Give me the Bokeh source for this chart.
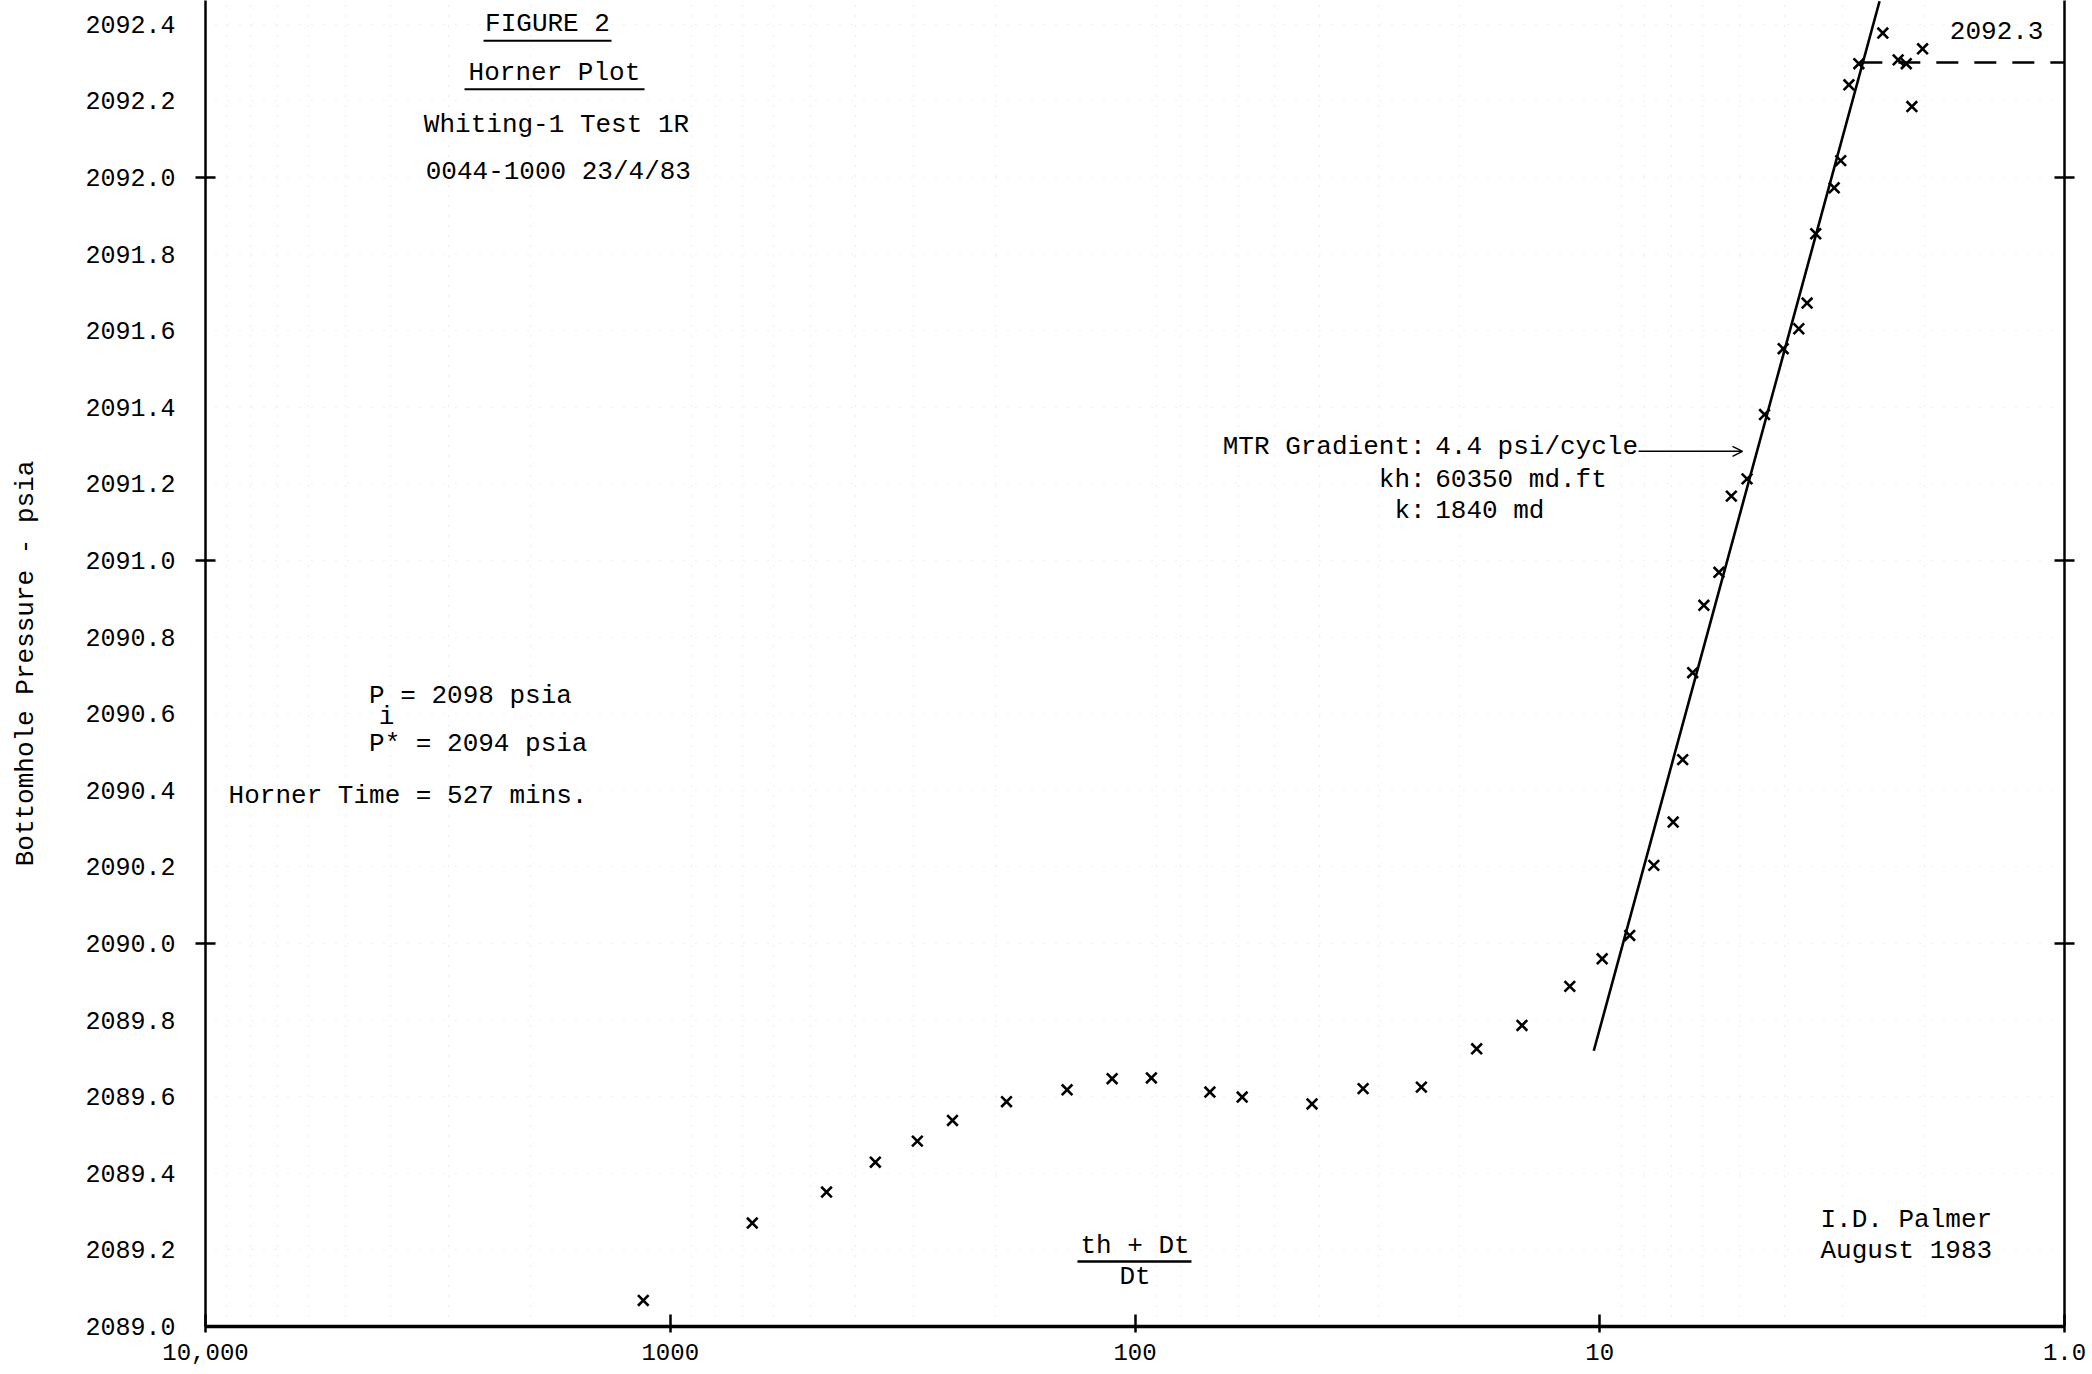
from bokeh.plotting import figure
from bokeh.models import (Range1d, FixedTicker, LinearAxis, PrintfTickFormatter,
                          CustomJSTickFormatter, ColumnDataSource, Label, LabelSet,
                          Arrow, OpenHead)
from bokeh.core.properties import value
from bokeh.embed import file_html
from bokeh.resources import INLINE

# ---------------- data ----------------
horner_time = [1143, 666, 461, 362, 294, 247, 189, 140, 112, 92.2,
               69.0, 58.8, 41.6, 32.3, 24.2, 18.4, 14.7, 11.6, 9.88, 8.62,
               7.65, 6.95, 6.63, 6.31, 5.97, 5.54, 5.21, 4.82, 4.42, 4.03,
               3.73, 3.58, 3.43, 3.13, 3.03, 2.91, 2.77, 2.46, 2.28, 2.19,
               2.02, 2.13]
pressure = [2089.068, 2089.270, 2089.351, 2089.429, 2089.484, 2089.538, 2089.587, 2089.618, 2089.647, 2089.649,
            2089.612, 2089.599, 2089.581, 2089.621, 2089.625, 2089.725, 2089.786, 2089.888, 2089.960, 2090.021,
            2090.204, 2090.317, 2090.480, 2090.707, 2090.883, 2090.969, 2091.168, 2091.213, 2091.381, 2091.553,
            2091.605, 2091.672, 2091.853, 2091.973, 2092.044, 2092.242, 2092.297, 2092.377, 2092.307, 2092.297,
            2092.336, 2092.185]

# MTR straight line (semi-log) and the extrapolated 2092.3 level
mtr_time = [10.3, 2.5]
mtr_pressure = [2089.72, 2092.46]
p1hr_time = [2.75, 1.0]
p1hr_pressure = [2092.3, 2092.3]

# axis ticks
x_ticks = [10000, 1000, 100, 10, 1]
x_tick_labels = ["10,000", "1000", "100", "10", "1.0"]
y_ticks = [2089.0, 2089.2, 2089.4, 2089.6, 2089.8, 2090.0, 2090.2, 2090.4, 2090.6,
           2090.8, 2091.0, 2091.2, 2091.4, 2091.6, 2091.8, 2092.0, 2092.2, 2092.4]
y_major_marks = [2090.0, 2091.0, 2092.0]

# printed semi-log paper grid positions
paper_grid = [d * 10 ** k for k in range(4) for d in range(2, 10)]

FONT = "Liberation Mono"

p = figure(width=2088, height=1372, x_axis_type="log",
           x_range=Range1d(10000, 1.0), y_range=Range1d(2089.0, 2092.462),
           output_backend="svg", toolbar_location=None,
           min_border_left=205, min_border_right=24, min_border_top=0, min_border_bottom=46,
           background_fill_color="white", border_fill_color="white")
p.outline_line_color = None

# ---- grid (faint printed log paper) ----
p.xgrid.ticker = FixedTicker(ticks=paper_grid)
p.xgrid.grid_line_color = "#bdbdbd"
p.xgrid.grid_line_dash = "1 9"
p.xgrid.grid_line_alpha = 0.55
p.ygrid.ticker = FixedTicker(ticks=y_ticks)
p.ygrid.grid_line_color = "#bdbdbd"
p.ygrid.grid_line_dash = "1 11"
p.ygrid.grid_line_alpha = 0.45

# ---- x axis ----
xa = p.xaxis[0]
xa.ticker = FixedTicker(ticks=x_ticks)
xa.major_label_overrides = {t: l for t, l in zip(x_ticks, x_tick_labels)}
xa.axis_line_width = 3.5
xa.axis_line_color = "black"
xa.major_tick_in = 12
xa.major_tick_out = 6
xa.major_tick_line_width = 2.5
xa.minor_tick_line_color = None
xa.major_label_standoff = 11
xa.major_label_text_font = FONT
xa.major_label_text_font_size = "24px"
xa.major_label_text_color = "black"

# ---- left y axis ----
ya = p.yaxis[0]
ya.ticker = FixedTicker(ticks=y_ticks, minor_ticks=y_major_marks)
ya.formatter = PrintfTickFormatter(format="%.1f")
ya.axis_line_width = 2.5
ya.axis_line_color = "black"
ya.major_tick_in = 0
ya.major_tick_out = 0
ya.minor_tick_in = 10
ya.minor_tick_out = 10
ya.minor_tick_line_width = 2.5
ya.minor_tick_line_color = "black"
ya.major_label_standoff = 20
ya.major_label_text_font = FONT
ya.major_label_text_font_size = "25px"
ya.major_label_text_color = "black"
ya.axis_label = "Bottomhole Pressure - psia"
ya.axis_label_text_font = FONT
ya.axis_label_text_font_size = "26px"
ya.axis_label_text_font_style = "normal"
ya.axis_label_text_color = "black"
ya.axis_label_standoff = 41

# ---- right border axis (at 1.0) ----
ra = LinearAxis(ticker=FixedTicker(ticks=y_major_marks),
                formatter=CustomJSTickFormatter(code="return ''"))
ra.axis_line_width = 2.5
ra.major_tick_in = 10
ra.major_tick_out = 10
ra.major_tick_line_width = 2.5
ra.minor_tick_line_color = None
ra.major_label_standoff = 0
ra.major_label_text_font_size = "1px"
p.add_layout(ra, "right")

# ---- data ----
src = ColumnDataSource(dict(t=horner_time, p=pressure))
p.scatter("t", "p", source=src, marker="x", size=15, line_color="black", line_width=2.6)
p.line(mtr_time, mtr_pressure, line_color="black", line_width=2.6)
p.line(p1hr_time, p1hr_pressure, line_color="black", line_width=2.6, line_dash="22 16")

# ---- annotations ----
def lab(x, y, text, align="center", size="26px"):
    p.add_layout(Label(x=x, y=y, text=text, text_align=align, text_baseline="middle",
                       text_font=FONT, text_font_size=size, text_color="black"))

lab(1837, 2092.400, "FIGURE 2")
p.line([2522, 1338], [2092.357, 2092.357], line_color="black", line_width=2)
lab(1775, 2092.272, "Horner Plot")
p.line([2771, 1136], [2092.230, 2092.230], line_color="black", line_width=2)
lab(1757, 2092.138, "Whiting-1 Test 1R")
lab(1741, 2092.013, "0044-1000 23/4/83")

lab(1507, 2090.645, "P  = 2098 psia", align="right")
lab(4079, 2090.592, "i")
lab(1507, 2090.520, "P* = 2094 psia", align="right")
lab(1507, 2090.386, "Horner Time = 527 mins.", align="right")

lab(23.7, 2091.295, "MTR Gradient:", align="right")
lab(22.6, 2091.295, "4.4 psi/cycle", align="left")
lab(23.7, 2091.211, "kh:", align="right")
lab(22.6, 2091.211, "60350 md.ft", align="left")
lab(23.7, 2091.128, "k:", align="right")
lab(22.6, 2091.128, "1840 md", align="left")
p.add_layout(Arrow(end=OpenHead(size=10, line_width=1.5, line_color="black"),
                   x_start=8.25, y_start=2091.285, x_end=4.93, y_end=2091.285,
                   line_width=1.5, line_color="black"))

lab(100, 2089.211, "th + Dt")
p.line([133, 75.6], [2089.170, 2089.170], line_color="black", line_width=2.5)
lab(100, 2089.128, "Dt")

lab(3.35, 2089.279, "I.D. Palmer", align="left")
lab(3.35, 2089.196, "August 1983", align="left")

lab(1.11, 2092.384, "2092.3", align="right")

open("out.html", "w").write(file_html(p, INLINE))
